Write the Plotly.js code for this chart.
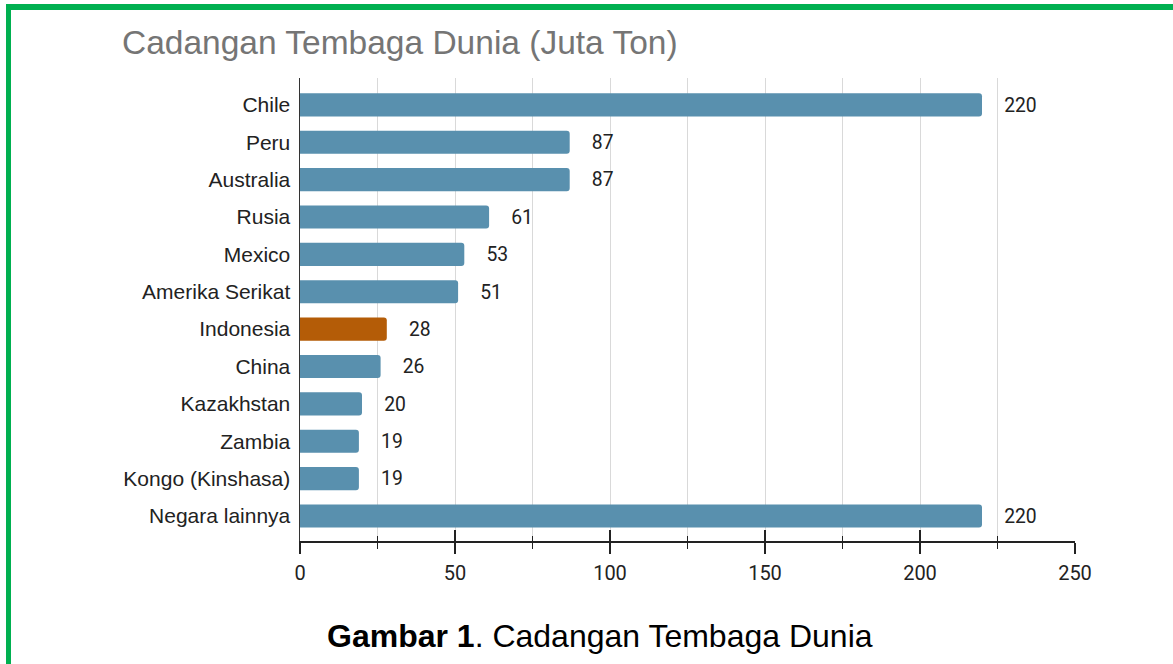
<!DOCTYPE html>
<html>
<head>
<meta charset="utf-8">
<script src="https://cdn.plot.ly/plotly-3.0.1.min.js"></script>
<style>
  html, body { margin: 0; padding: 0; background: #fff; }
  #wrap { position: relative; width: 1173px; height: 664px; overflow: hidden; }
  #frame { position: absolute; left: 6px; top: 4px; width: 1300px; height: 800px;
           border-left: 5px solid #00b050; border-top: 6px solid #00b050; box-sizing: border-box; pointer-events: none; z-index: 5; }
  #chart { position: absolute; left: 0; top: 0; width: 1173px; height: 664px; }
</style>
</head>
<body>
<div id="wrap">
  <div id="chart"></div>
  <div id="frame"></div>
</div>
<script>
const countries = ["Chile", "Peru", "Australia", "Rusia", "Mexico", "Amerika Serikat",
  "Indonesia", "China", "Kazakhstan", "Zambia", "Kongo (Kinshasa)", "Negara lainnya"];
const reserves = [220, 87, 87, 61, 53, 51, 28, 26, 20, 19, 19, 220];
const highlight = "Indonesia";
const xTicks = [0, 50, 100, 150, 200, 250];

const blue = "#5990ae";
const orange = "#b45c07";
const colors = countries.map(c => c === highlight ? orange : blue);

const bars = {
  type: "bar",
  orientation: "h",
  y: countries,
  x: reserves,
  marker: { color: colors, cornerradius: 3, line: { width: 0 } },
  text: reserves.map(v => String(v)),
  texttemplate: "\u00a0\u00a0\u00a0\u00a0%{text}",
  textposition: "outside",
  cliponaxis: false,
  textfont: { family: "Roboto, sans-serif", size: 20, color: "#222" },
  hoverinfo: "x+y",
  showlegend: false
};

const ghost = {
  type: "scatter", mode: "markers", x: [0], y: [countries[0]],
  xaxis: "x2", yaxis: "y", marker: { opacity: 0 }, hoverinfo: "skip", showlegend: false
};

const layout = {
  width: 1173, height: 664,
  paper_bgcolor: "#fff", plot_bgcolor: "#fff",
  margin: { l: 300, r: 98, t: 78, b: 123 },
  bargap: 0.38,
  title: {
    text: "Cadangan Tembaga Dunia (Juta Ton)",
    font: { family: "Liberation Sans, Arial, sans-serif", size: 33.5, color: "#757575" },
    xref: "container", yref: "container",
    x: 122 / 1173, xanchor: "left",
    y: 1 - 42 / 664, yanchor: "middle"
  },
  xaxis: {
    range: [0, 250], tickvals: xTicks, ticktext: xTicks.map(String),
    ticks: "outside", ticklen: 11, tickwidth: 1.5, tickcolor: "#222",
    showline: true, linecolor: "#222", linewidth: 1.5,
    showgrid: true, gridcolor: "#d9d9d9", gridwidth: 1,
    minor: { dtick: 25, tick0: 0, ticks: "outside", ticklen: 6, tickwidth: 1.2, tickcolor: "#222", showgrid: true, gridcolor: "#d9d9d9" },
    zeroline: false,
    ticklabelstandoff: 2,
    tickfont: { family: "Roboto, sans-serif", size: 20, color: "#222" },
    fixedrange: true
  },
  xaxis2: {
    overlaying: "x", matches: "x", anchor: "y", side: "bottom",
    range: [0, 250], tickvals: xTicks,
    ticks: "inside", ticklen: 11, tickwidth: 1.5, tickcolor: "#222",
    showticklabels: false, showgrid: false, showline: false, zeroline: false,
    minor: { dtick: 25, tick0: 0, ticks: "inside", ticklen: 5, tickwidth: 1.2, tickcolor: "#222", showgrid: false }
  },
  yaxis: {
    type: "category",
    range: [11.67, -0.72],
    showline: true, linecolor: "#333", linewidth: 1.5,
    ticks: "", showgrid: false, zeroline: false,
    ticklabelstandoff: 4,
    tickfont: { family: "Liberation Sans, Arial, sans-serif", size: 21, color: "#222" },
    fixedrange: true
  },
  annotations: [{
    text: "<b>Gambar 1</b>. Cadangan Tembaga Dunia",
    xref: "paper", yref: "paper",
    x: (600 - 300) / 775, y: (541 - 636) / 463,
    xanchor: "center", yanchor: "middle", showarrow: false,
    font: { family: "Liberation Sans, Arial, sans-serif", size: 32, color: "#000" }
  }]
};

Plotly.newPlot("chart", [bars, ghost], layout, { displayModeBar: false, staticPlot: true });
</script>
</body>
</html>
